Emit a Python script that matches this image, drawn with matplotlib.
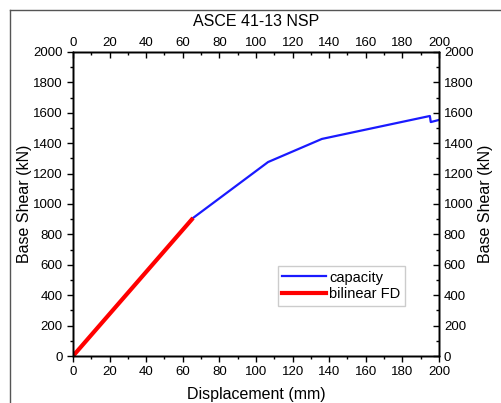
import matplotlib.pyplot as plt
from matplotlib.lines import Line2D
from matplotlib.ticker import MultipleLocator

plt.rcParams['font.family'] = ['Liberation Sans', 'DejaVu Sans']

# pushover capacity curve (mm, kN)
cap_disp = [0, 65.6, 106.6, 136, 195, 195.5, 200]
cap_shear = [0, 908, 1276, 1428, 1579, 1539, 1553]

# bilinear fit (first branch)
bil_disp = [0, 65.6]
bil_shear = [0, 908]

fig = plt.figure(figsize=(5.02, 4.03), dpi=100)
ax = fig.add_axes([0.1454, 0.1166, 0.7291, 0.7544])

ax.plot(cap_disp, cap_shear, color='#1a1aff', lw=1.6, label='capacity')
ax.plot(bil_disp, bil_shear, color='#ff0000', lw=3, label='bilinear FD', solid_capstyle='butt')

ax.set_xlim(0, 200)
ax.set_ylim(0, 2000)
ax.xaxis.set_major_locator(MultipleLocator(20))
ax.xaxis.set_minor_locator(MultipleLocator(10))
ax.yaxis.set_major_locator(MultipleLocator(200))
ax.yaxis.set_minor_locator(MultipleLocator(100))
ax.tick_params(which='major', direction='out', length=4, width=1, labelsize=9.5)
ax.tick_params(which='minor', direction='out', length=2.5, width=1)
ax.set_xlabel('Displacement (mm)', fontsize=11.5, labelpad=6.5)
ax.set_ylabel('Base Shear (kN)', fontsize=11.5, labelpad=1)

axr = ax.twinx()
axr.set_ylim(0, 2000)
axr.yaxis.set_major_locator(MultipleLocator(200))
axr.yaxis.set_minor_locator(MultipleLocator(100))
axr.tick_params(which='major', direction='in', length=4, width=1, labelsize=9.5)
axr.tick_params(which='minor', direction='in', length=2.5, width=1)
axr.set_ylabel('Base Shear (kN)', fontsize=11.5, labelpad=3)

axt = ax.twiny()
axt.set_xlim(0, 200)
axt.xaxis.set_major_locator(MultipleLocator(20))
axt.xaxis.set_minor_locator(MultipleLocator(10))
axt.tick_params(which='major', direction='in', length=4, width=1, labelsize=9.5, pad=2)
axt.tick_params(which='minor', direction='in', length=2.5, width=1)

for a in (ax, axr, axt):
    for s in a.spines.values():
        s.set_linewidth(1)

fig.text(0.51, 0.946, 'ASCE 41-13 NSP', ha='center', va='center', fontsize=11.5)

handles = [Line2D([], [], color='#1a1aff', lw=1.6), Line2D([], [], color='#ff0000', lw=3)]
leg = ax.legend(handles, ['capacity', 'bilinear FD'], loc='lower left',
                bbox_to_anchor=(0.56, 0.165), fontsize=10.5, frameon=True,
                fancybox=False, edgecolor='#c0c0c0', handlelength=3.0,
                handletextpad=0.2, borderpad=0.3, labelspacing=0.2, borderaxespad=0)
leg.get_frame().set_linewidth(1)

# screenshot frame
fig.add_artist(Line2D([0.02, 0.02], [0, 0.975], transform=fig.transFigure, color='#555555', lw=1))
fig.add_artist(Line2D([0.02, 1], [0.975, 0.975], transform=fig.transFigure, color='#555555', lw=1))

fig.savefig('out.png', dpi=100)
